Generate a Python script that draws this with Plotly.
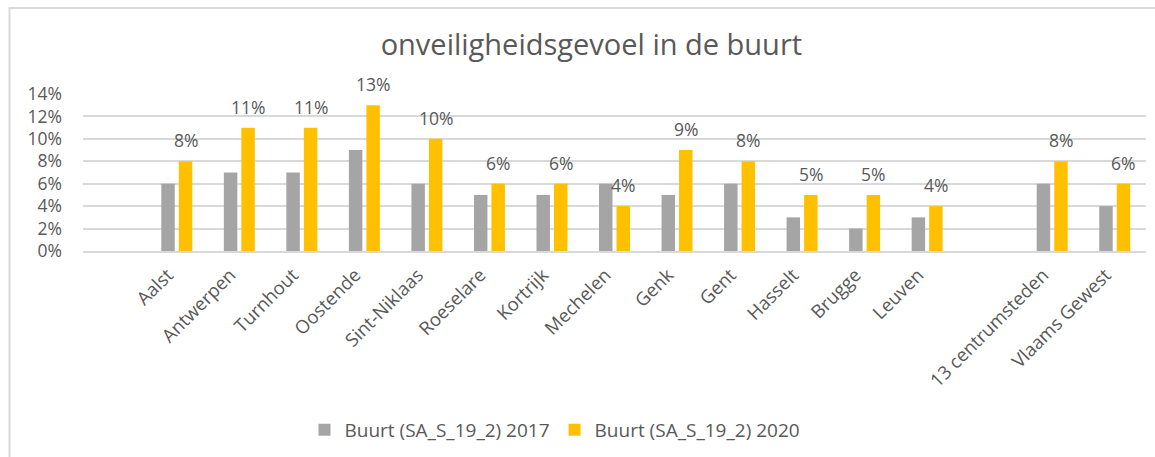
import plotly.graph_objects as go

# Axis slots in display order; empty strings are spacer slots
categories = ["", "Aalst", "Antwerpen", "Turnhout", "Oostende", "Sint-Niklaas",
              "Roeselare", "Kortrijk", "Mechelen", "Genk", "Gent", "Hasselt",
              "Brugge", "Leuven", "", "13 centrumsteden", "Vlaams Gewest"]

cities = ["Aalst", "Antwerpen", "Turnhout", "Oostende", "Sint-Niklaas",
          "Roeselare", "Kortrijk", "Mechelen", "Genk", "Gent", "Hasselt",
          "Brugge", "Leuven", "13 centrumsteden", "Vlaams Gewest"]

# Share of residents feeling unsafe in their neighbourhood (%)
buurt_2017 = [6, 7, 7, 9, 6, 5, 5, 6, 5, 6, 3, 2, 3, 6, 4]
buurt_2020 = [8, 11, 11, 13, 10, 6, 6, 4, 9, 8, 5, 5, 4, 8, 6]

y_ticks = [0, 2, 4, 6, 8, 10, 12, 14]
y_tick_labels = [f"{t}%" for t in y_ticks]

# Slot index of every city on the x axis
x_pos = [categories.index(c) for c in cities]

W, H = 1155, 457
ML, MR, MT, MB = 83, 9, 94, 206
plot_w = W - ML - MR
plot_h = H - MT - MB

GREY = "#A5A5A5"
GOLD = "#FFC000"
TEXT = "#595959"
GRID = "#D9D9D9"
FONT = "'Open Sans', 'Noto Sans', sans-serif"

BARGAP = 0.44
slot_px = plot_w / len(categories) * (1 - BARGAP) / 2

fig = go.Figure()
fig.add_trace(go.Bar(name="Buurt (SA_S_19_2) 2017", x=x_pos, y=buurt_2017,
                     marker=dict(color=GREY, line=dict(width=0))))
fig.add_trace(go.Bar(name="Buurt (SA_S_19_2) 2020", x=x_pos, y=buurt_2020,
                     marker=dict(color=GOLD, line=dict(width=0))))

# Value labels above the 2020 bars
for xp, v in zip(x_pos, buurt_2020):
    fig.add_annotation(x=xp, y=v, text=f"{v}%", showarrow=False,
                       xshift=slot_px / 2, yshift=21, yanchor="middle",
                       font=dict(size=17.5, color=TEXT, family=FONT))

# Pixel -> paper coordinate helpers
def px_x(px):
    return (px - ML) / plot_w

def px_y(py):
    return (H - MB - py) / plot_h

# Light frame on the left and top edges
fig.add_shape(type="line", xref="paper", yref="paper",
              x0=px_x(9.5), x1=px_x(9.5), y0=px_y(8), y1=px_y(H + 2),
              line=dict(color=GRID, width=2))
fig.add_shape(type="line", xref="paper", yref="paper",
              x0=px_x(8.5), x1=px_x(W + 2), y0=px_y(8), y1=px_y(8),
              line=dict(color=GRID, width=2))

fig.update_layout(
    width=W, height=H,
    margin=dict(l=ML, r=MR, t=MT, b=MB, pad=0, autoexpand=False),
    paper_bgcolor="white", plot_bgcolor="white",
    barmode="group", bargap=BARGAP, bargroupgap=0.23,
    font=dict(family=FONT, color=TEXT, size=16),
    title=dict(text="onveiligheidsgevoel in de buurt", x=0.512, xref="container",
               xanchor="center", y=1 - 45 / H, yanchor="middle",
               font=dict(size=29, color=TEXT, family=FONT)),
    legend=dict(orientation="h", x=px_x(555), xanchor="center", xref="paper",
                y=px_y(430), yanchor="middle", yref="paper",
                font=dict(size=19, color=TEXT), traceorder="normal"),
    showlegend=True,
)

fig.update_xaxes(range=[-0.5, len(categories) - 0.5], tickvals=x_pos,
                 ticktext=cities, tickangle=-45, showgrid=False, zeroline=False,
                 showline=True, linecolor=GRID, linewidth=2, ticks="",
                 ticklabelstandoff=4, ticklabelshift=-9, automargin=False,
                 tickfont=dict(size=18.5, color=TEXT))
fig.update_yaxes(range=[0, 14], tickvals=y_ticks, ticktext=y_tick_labels,
                 showgrid=True, gridcolor=GRID, gridwidth=2, zeroline=False,
                 showline=False, ticks="", ticklabelstandoff=20, automargin=False,
                 tickfont=dict(size=17.5, color=TEXT))

fig.write_html("out.html")
